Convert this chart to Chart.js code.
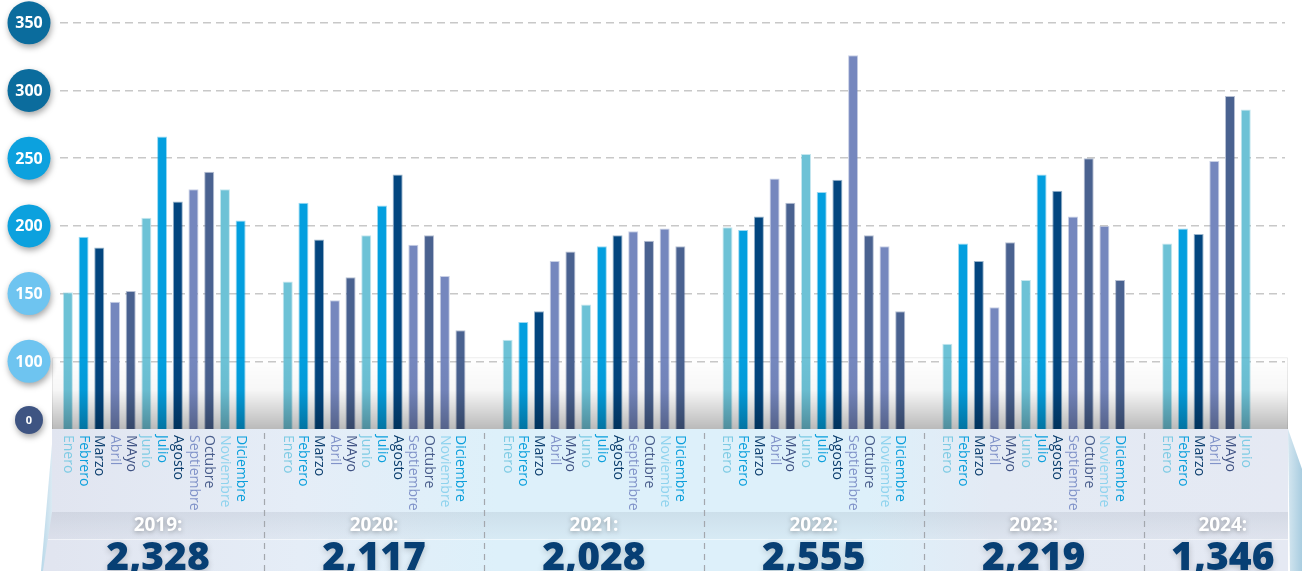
<!DOCTYPE html>
<html>
<head>
<meta charset="utf-8">
<script src="https://cdn.jsdelivr.net/npm/chart.js@4.4.1/dist/chart.umd.min.js"></script>
<style>
  html, body { margin: 0; padding: 0; background: #fff; }
  canvas { display: block; }
</style>
</head>
<body>
<canvas id="myBarChart" width="1302" height="571"></canvas>
<script>
// Monthly values per year
const months = ['Enero', 'Febrero', 'Marzo', 'Abril', 'MAyo', 'Junio', 'Julio', 'Agosto', 'Septiembre', 'Octubre', 'Noviembre', 'Diciembre'];
const years = ['2019', '2020', '2021', '2022', '2023', '2024'];
const yearTotals = [2328, 2117, 2028, 2555, 2219, 1346];

const v2019 = [151, 192, 184, 144, 152, 206, 266, 218, 227, 240, 227, 204];
const v2020 = [159, 217, 190, 145, 162, 193, 215, 238, 186, 193, 163, 123];
const v2021 = [116, 129, 137, 174, 181, 142, 185, 193, 196, 189, 198, 185];
const v2022 = [199, 197, 207, 235, 217, 253, 225, 234, 326, 193, 185, 137];
const v2023 = [113, 187, 174, 140, 188, 160, 238, 226, 207, 250, 200, 160];
const v2024 = [187, 198, 194, 248, 296, 286];

// y axis: the bottom tick (50) is shown as "0"
const yTicks = [50, 100, 150, 200, 250, 300, 350];
const yTickLabels = ['0', '100', '150', '200', '250', '300', '350'];

// colours
const teal = '#6dc2d6', blue = '#039fdf', navy = '#03467f', lav = '#7587be', slate = '#4a6290';
const barPattern2019 = [teal, blue, navy, lav, slate, teal, blue, navy, lav, slate, teal, blue];
const barPattern = [teal, blue, navy, lav, slate, teal, blue, navy, lav, slate, lav, slate];
const labelColors = ['#7ecbe4', '#0a9fdc', '#0b3e6e', '#8193c9', '#3f5283', '#7ecbe4', '#0a9fdc', '#0b3e6e', '#8193c9', '#4a5e8c', '#8fd3ee', '#0a9fdc'];
const circleColors = ['#3e5482', '#6ec4f0', '#6ec4f0', '#0ca1de', '#0ca1de', '#0b6c9d', '#0b6c9d'];

// build the category slots: 2 empty slots between years, 2 at the end
const yearValues = [v2019, v2020, v2021, v2022, v2023, v2024];
const labels = [], values = [], colors = [], slotYear = [], slotMonth = [];
function addGap() {
    for (let k = 0; k < 2; k++) {
        labels.push(''); values.push(null); colors.push('transparent');
        slotYear.push(-1); slotMonth.push(-1);
    }
}
yearValues.forEach(function (vals, yi) {
    if (yi > 0) addGap();
    vals.forEach(function (v, mi) {
        labels.push(months[mi]);
        values.push(v);
        colors.push((yi === 0 ? barPattern2019 : barPattern)[mi]);
        slotYear.push(yi);
        slotMonth.push(mi);
    });
});
addGap();

const decor = {
    id: 'decor',
    beforeDraw(chart) {
        const ctx = chart.ctx;
        const y = chart.scales.y;
        const base = y.getPixelForValue(50);
        const W = chart.width, H = chart.height;
        const L = 52, R = 1288, split = base + 83;

        // light blue wedges at both sides
        ctx.save();
        let g = ctx.createLinearGradient(40, 0, 52, 0);
        g.addColorStop(0, '#b5d6e8'); g.addColorStop(1, '#dbeaf3');
        ctx.fillStyle = g;
        ctx.beginPath();
        ctx.moveTo(L, base + 15); ctx.lineTo(L, H); ctx.lineTo(41, H); ctx.closePath();
        ctx.fill();
        g = ctx.createLinearGradient(R, 0, W, 0);
        g.addColorStop(0, '#d4e6f0'); g.addColorStop(1, '#a9cde0');
        ctx.fillStyle = g;
        ctx.beginPath();
        ctx.moveTo(R, base); ctx.lineTo(W, base + 40); ctx.lineTo(W, H); ctx.lineTo(R + 2, H); ctx.closePath();
        ctx.fill();

        // label panel and totals band
        g = ctx.createLinearGradient(L, 0, R, 0);
        g.addColorStop(0, '#e1e5f0');
        g.addColorStop(0.2, '#e5edf7');
        g.addColorStop(0.36, '#ddf0fa');
        g.addColorStop(0.66, '#ddf0fa');
        g.addColorStop(0.76, '#e3eaf4');
        g.addColorStop(1, '#e5e9f3');
        ctx.fillStyle = g;
        ctx.beginPath();
        ctx.moveTo(L, base); ctx.lineTo(R, base); ctx.lineTo(R, H); ctx.lineTo(43, H); ctx.lineTo(L, split);
        ctx.closePath();
        ctx.fill();

        // shaded strip behind the year text
        g = ctx.createLinearGradient(0, split, 0, split + 27);
        g.addColorStop(0, 'rgba(40,55,80,0.09)');
        g.addColorStop(0.5, 'rgba(40,55,80,0.06)');
        g.addColorStop(1, 'rgba(40,55,80,0.03)');
        ctx.fillStyle = g;
        ctx.beginPath();
        ctx.moveTo(L, split); ctx.lineTo(R, split); ctx.lineTo(R, split + 27); ctx.lineTo(48, split + 27);
        ctx.closePath();
        ctx.fill();
        ctx.fillStyle = 'rgba(255,255,255,0.5)';
        ctx.fillRect(48, split + 27, R - 48, 1);
        ctx.restore();
    },
    afterDatasetsDraw(chart) {
        const ctx = chart.ctx;
        const y = chart.scales.y;
        const base = y.getPixelForValue(50);
        const top = y.getPixelForValue(100) - 4;
        const L = 52, R = 1288;
        ctx.save();
        const g = ctx.createLinearGradient(0, top, 0, base);
        g.addColorStop(0, 'rgba(0,0,0,0)');
        g.addColorStop(0.45, 'rgba(0,0,0,0.03)');
        g.addColorStop(1, 'rgba(0,0,0,0.27)');
        ctx.fillStyle = g;
        ctx.fillRect(L, top, R - L, base - top);
        ctx.strokeStyle = 'rgba(0,0,0,0.08)';
        ctx.lineWidth = 1;
        ctx.beginPath();
        ctx.moveTo(L + 0.5, base); ctx.lineTo(L + 0.5, top + 0.5); ctx.lineTo(R - 0.5, top + 0.5); ctx.lineTo(R - 0.5, base);
        ctx.stroke();
        ctx.restore();
    },
    afterDraw(chart) {
        const ctx = chart.ctx;
        const x = chart.scales.x, y = chart.scales.y;
        const base = y.getPixelForValue(50);
        const H = chart.height;
        const split = base + 83;
        ctx.save();

        // year separators and year centres
        const bounds = [52];
        for (let i = 1; i < slotYear.length; i++) {
            if (slotYear[i] > 0 && slotYear[i - 1] === -1) {
                bounds.push((x.getPixelForValue(i) + x.getPixelForValue(i - 3)) / 2);
            }
        }
        bounds.push(chart.width);
        ctx.strokeStyle = '#a3a7ad';
        ctx.lineWidth = 1.2;
        ctx.setLineDash([6, 5]);
        for (let b = 1; b < bounds.length - 1; b++) {
            ctx.beginPath();
            ctx.moveTo(Math.round(bounds[b]) + 0.5, base + 4);
            ctx.lineTo(Math.round(bounds[b]) + 0.5, H);
            ctx.stroke();
        }
        ctx.setLineDash([]);

        // month labels, rotated
        ctx.font = '14px "Open Sans"';
        ctx.textAlign = 'left';
        ctx.textBaseline = 'middle';
        for (let i = 0; i < labels.length; i++) {
            if (slotMonth[i] < 0) continue;
            ctx.save();
            ctx.translate(x.getPixelForValue(i), base + 6);
            ctx.rotate(Math.PI / 2);
            ctx.fillStyle = labelColors[slotMonth[i]];
            ctx.fillText(labels[i], 0, 0);
            ctx.restore();
        }

        // year names and totals
        ctx.textAlign = 'center';
        years.forEach(function (yr, yi) {
            const cx = (bounds[yi] + bounds[yi + 1]) / 2;
            ctx.save();
            ctx.shadowColor = 'rgba(0,0,0,0.35)';
            ctx.shadowBlur = 5;
            ctx.shadowOffsetY = 1;
            ctx.fillStyle = '#ffffff';
            ctx.font = 'bold 19px "Open Sans"';
            ctx.textBaseline = 'middle';
            ctx.fillText(yr + ':', cx, split + 14);
            ctx.shadowColor = 'rgba(0,0,0,0.2)';
            ctx.shadowBlur = 6;
            ctx.shadowOffsetY = 2;
            ctx.fillStyle = '#073f74';
            ctx.font = '800 39px "Open Sans"';
            ctx.textBaseline = 'alphabetic';
            ctx.fillText(yearTotals[yi].toLocaleString('en-US'), cx, H - 1);
            ctx.restore();
        });

        // y axis circles
        yTicks.forEach(function (v, k) {
            let cy = y.getPixelForValue(v);
            let r = 21.5;
            if (k === 0) { cy -= 9; r = 14; }
            ctx.save();
            ctx.shadowColor = 'rgba(0,0,0,0.35)';
            ctx.shadowBlur = 6;
            ctx.shadowOffsetX = 1;
            ctx.shadowOffsetY = 3;
            ctx.fillStyle = circleColors[k];
            ctx.beginPath();
            ctx.arc(29, cy, r, 0, Math.PI * 2);
            ctx.fill();
            ctx.restore();
            ctx.fillStyle = '#ffffff';
            ctx.font = k === 0 ? 'bold 11px "Open Sans"' : 'bold 16px "Open Sans"';
            ctx.textAlign = 'center';
            ctx.textBaseline = 'middle';
            ctx.fillText(yTickLabels[k], 29, cy + 1);
        });
        ctx.restore();
    }
};

var barChart = document.getElementById('myBarChart').getContext('2d');
const myChart = new Chart(barChart, {
    type: 'bar',
    data: {
        labels: labels,
        datasets: [{
            data: values,
            backgroundColor: colors,
            borderColor: colors.map(function (c) { return c === 'transparent' ? c : c + '66'; }),
            borderWidth: 1,
            barPercentage: 0.64,
            categoryPercentage: 1
        }]
    },
    options: {
        responsive: false,
        animation: false,
        devicePixelRatio: 1,
        layout: { padding: { left: 60, right: 17, top: 16, bottom: 142 } },
        plugins: { legend: { display: false }, tooltip: { enabled: false } },
        scales: {
            x: { display: false },
            y: {
                min: 50,
                max: 355,
                afterBuildTicks: function (axis) { axis.ticks = yTicks.map(function (v) { return { value: v }; }); },
                ticks: { display: false },
                border: { display: false, dash: [8, 5] },
                grid: {
                    drawTicks: false,
                    lineWidth: 1.5,
                    color: function (c) { return c.tick && c.tick.value === 50 ? 'transparent' : '#c8c8c8'; }
                }
            }
        }
    },
    plugins: [decor]
});
</script>
</body>
</html>
